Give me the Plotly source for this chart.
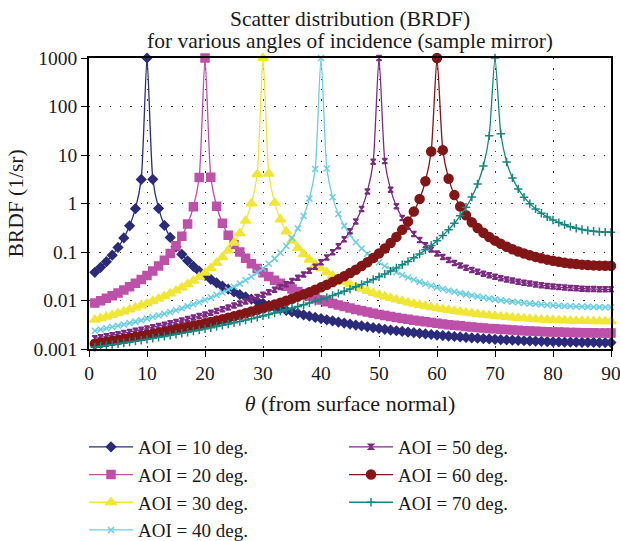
import plotly.graph_objects as go

theta = list(range(1, 91))

aoi_labels = ["AOI = 10 deg.", "AOI = 20 deg.", "AOI = 30 deg.", "AOI = 40 deg.",
              "AOI = 50 deg.", "AOI = 60 deg.", "AOI = 70 deg."]

brdf_10 = [0.0381, 0.0483, 0.0632, 0.0862, 0.1243, 0.1947, 0.347, 0.782, 3.14, 1000,
           3.16, 0.792, 0.353, 0.1995, 0.1282, 0.0894, 0.0660, 0.0508, 0.0403, 0.0328,
           0.0273, 0.0230, 0.01974, 0.01712, 0.01500, 0.01327, 0.01183, 0.01063, 0.00961, 0.00873,
           0.00798, 0.00733, 0.00676, 0.00626, 0.00581, 0.00542, 0.00507, 0.00476, 0.00448, 0.00423,
           0.00400, 0.00379, 0.00360, 0.00343, 0.00327, 0.00312, 0.00299, 0.00287, 0.00275, 0.00265,
           0.00255, 0.00246, 0.00238, 0.00230, 0.00223, 0.00217, 0.00210, 0.00204, 0.00199, 0.00194,
           0.00189, 0.00185, 0.00181, 0.00177, 0.00173, 0.00170, 0.00167, 0.00164, 0.00161, 0.00158,
           0.00156, 0.00154, 0.00152, 0.00150, 0.00148, 0.00147, 0.00145, 0.00144, 0.00142, 0.00141,
           0.00140, 0.00139, 0.00139, 0.00138, 0.00137, 0.00137, 0.00137, 0.00136, 0.00136, 0.00136]

brdf_20 = [0.00883, 0.00986, 0.01108, 0.01255, 0.01432, 0.01649, 0.01919, 0.0226, 0.0270, 0.0328,
           0.0407, 0.0517, 0.0679, 0.0928, 0.1343, 0.211, 0.377, 0.854, 3.44, 1000,
           3.48, 0.876, 0.392, 0.222, 0.1432, 0.1002, 0.0742, 0.0573, 0.0456, 0.0373,
           0.0311, 0.0263, 0.0227, 0.01972, 0.01734, 0.01540, 0.01378, 0.01242, 0.01127, 0.01028,
           0.00943, 0.00869, 0.00805, 0.00748, 0.00698, 0.00653, 0.00614, 0.00578, 0.00546, 0.00517,
           0.00491, 0.00468, 0.00446, 0.00426, 0.00409, 0.00392, 0.00377, 0.00363, 0.00350, 0.00339,
           0.00328, 0.00318, 0.00309, 0.00300, 0.00292, 0.00285, 0.00278, 0.00272, 0.00266, 0.00260,
           0.00255, 0.00251, 0.00246, 0.00243, 0.00239, 0.00236, 0.00233, 0.00230, 0.00227, 0.00225,
           0.00223, 0.00221, 0.00220, 0.00218, 0.00217, 0.00216, 0.00216, 0.00215, 0.00215, 0.00215]

brdf_30 = [0.00399, 0.00430, 0.00464, 0.00502, 0.00546, 0.00595, 0.00650, 0.00714, 0.00788, 0.00873,
           0.00973, 0.01090, 0.01229, 0.01396, 0.01599, 0.01848, 0.0216, 0.0255, 0.0306, 0.0373,
           0.0464, 0.0591, 0.0779, 0.1069, 0.1553, 0.245, 0.439, 0.998, 4.03, 1000,
           4.11, 1.039, 0.467, 0.265, 0.1718, 0.1207, 0.0897, 0.0695, 0.0556, 0.0456,
           0.0382, 0.0325, 0.0281, 0.0245, 0.0217, 0.01933, 0.01738, 0.01573, 0.01433, 0.01314,
           0.01211, 0.01121, 0.01043, 0.00974, 0.00913, 0.00859, 0.00811, 0.00768, 0.00729, 0.00694,
           0.00663, 0.00634, 0.00608, 0.00585, 0.00563, 0.00544, 0.00526, 0.00510, 0.00495, 0.00481,
           0.00469, 0.00457, 0.00447, 0.00437, 0.00428, 0.00420, 0.00413, 0.00407, 0.00401, 0.00396,
           0.00391, 0.00387, 0.00383, 0.00380, 0.00378, 0.00376, 0.00374, 0.00373, 0.00372, 0.00372]

brdf_40 = [0.00238, 0.00252, 0.00267, 0.00283, 0.00301, 0.00321, 0.00343, 0.00367, 0.00393, 0.00423,
           0.00455, 0.00492, 0.00533, 0.00579, 0.00631, 0.00690, 0.00757, 0.00835, 0.00924, 0.01028,
           0.01150, 0.01293, 0.01464, 0.01669, 0.01919, 0.0223, 0.0261, 0.0310, 0.0373, 0.0456,
           0.0570, 0.0730, 0.0965, 0.1331, 0.1942, 0.307, 0.554, 1.264, 5.13, 1000,
           5.28, 1.340, 0.605, 0.346, 0.225, 0.1587, 0.1186, 0.0924, 0.0742, 0.0612,
           0.0515, 0.0441, 0.0383, 0.0337, 0.0299, 0.0268, 0.0242, 0.0221, 0.0202, 0.01866,
           0.01730, 0.01612, 0.01509, 0.01419, 0.01339, 0.01269, 0.01206, 0.01150, 0.01100, 0.01055,
           0.01015, 0.00979, 0.00946, 0.00917, 0.00891, 0.00867, 0.00846, 0.00827, 0.00810, 0.00795,
           0.00782, 0.00770, 0.00760, 0.00752, 0.00745, 0.00739, 0.00734, 0.00731, 0.00729, 0.00729]

brdf_50 = [0.00166, 0.00174, 0.00183, 0.00192, 0.00202, 0.00213, 0.00224, 0.00237, 0.00250, 0.00265,
           0.00281, 0.00299, 0.00318, 0.00339, 0.00361, 0.00387, 0.00415, 0.00445, 0.00479, 0.00517,
           0.00560, 0.00607, 0.00660, 0.00720, 0.00789, 0.00866, 0.00955, 0.01057, 0.01176, 0.01314,
           0.01476, 0.01668, 0.01897, 0.0217, 0.0251, 0.0293, 0.0345, 0.0411, 0.0498, 0.0612,
           0.0769, 0.0990, 0.1317, 0.1825, 0.268, 0.426, 0.773, 1.773, 7.24, 1000,
           7.53, 1.927, 0.875, 0.503, 0.330, 0.234, 0.1763, 0.1383, 0.1120, 0.0930,
           0.0789, 0.0680, 0.0595, 0.0528, 0.0473, 0.0427, 0.0390, 0.0358, 0.0331, 0.0308,
           0.0289, 0.0272, 0.0257, 0.0244, 0.0233, 0.0223, 0.0214, 0.0207, 0.0200, 0.01943,
           0.01893, 0.01850, 0.01813, 0.01782, 0.01756, 0.01735, 0.01719, 0.01708, 0.01701, 0.01699]

brdf_60 = [0.00129, 0.00135, 0.00140, 0.00147, 0.00153, 0.00160, 0.00168, 0.00176, 0.00185, 0.00194,
           0.00204, 0.00215, 0.00226, 0.00239, 0.00252, 0.00267, 0.00283, 0.00300, 0.00318, 0.00339,
           0.00361, 0.00385, 0.00412, 0.00441, 0.00473, 0.00508, 0.00548, 0.00591, 0.00640, 0.00694,
           0.00755, 0.00823, 0.00900, 0.00988, 0.01087, 0.01201, 0.01332, 0.01484, 0.01660, 0.01866,
           0.0211, 0.0240, 0.0275, 0.0317, 0.0368, 0.0432, 0.0513, 0.0616, 0.0750, 0.0930,
           0.1177, 0.1528, 0.205, 0.286, 0.423, 0.680, 1.242, 2.88, 11.85, 1000,
           12.60, 3.25, 1.490, 0.867, 0.573, 0.412, 0.313, 0.249, 0.204, 0.1714,
           0.1472, 0.1286, 0.1141, 0.1025, 0.0932, 0.0855, 0.0792, 0.0740, 0.0696, 0.0659,
           0.0628, 0.0602, 0.0581, 0.0563, 0.0549, 0.0538, 0.0529, 0.0523, 0.0519, 0.0518]

brdf_70 = [0.00109, 0.00114, 0.00118, 0.00123, 0.00128, 0.00133, 0.00139, 0.00145, 0.00152, 0.00158,
           0.00166, 0.00174, 0.00182, 0.00191, 0.00201, 0.00211, 0.00222, 0.00234, 0.00247, 0.00260,
           0.00275, 0.00291, 0.00309, 0.00327, 0.00348, 0.00370, 0.00394, 0.00421, 0.00449, 0.00481,
           0.00516, 0.00554, 0.00596, 0.00642, 0.00694, 0.00751, 0.00815, 0.00886, 0.00965, 0.01055,
           0.01156, 0.01270, 0.01401, 0.01549, 0.01719, 0.01915, 0.0214, 0.0241, 0.0272, 0.0308,
           0.0352, 0.0404, 0.0467, 0.0545, 0.0640, 0.0760, 0.0911, 0.1107, 0.1366, 0.1714,
           0.220, 0.289, 0.392, 0.556, 0.835, 1.361, 2.53, 5.94, 24.9, 1000,
           27.4, 7.19, 3.37, 2.00, 1.351, 0.993, 0.773, 0.629, 0.529, 0.457,
           0.404, 0.364, 0.333, 0.309, 0.291, 0.278, 0.268, 0.261, 0.257, 0.256]

y_tickvals = [0.001, 0.01, 0.1, 1, 10, 100, 1000]
y_ticktext = ["0.001", "0.01", "0.1", "1", "10", "100", "1000"]

series = [brdf_10, brdf_20, brdf_30, brdf_40, brdf_50, brdf_60, brdf_70]
colors = ["#2b2b7a", "#bd50a8", "#f0e636", "#6ccfe0", "#7b2c80", "#821616", "#168680"]
symbols = ["diamond", "square", "triangle-up", "x-thin-open", "hourglass", "circle", "cross-thin-open"]
sizes = [7, 8, 9, 6, 5, 9, 6]
legend_ranks = [1, 3, 5, 7, 2, 4, 6]

FONT = "Liberation Serif"
TXT = "#1a1a1a"
L, R, T, B = 89, 9, 58, 192
PW = 620 - L - R
PH = 541 - T - B

fig = go.Figure()
for ys, name, col, sym, sz, rk in zip(series, aoi_labels, colors, symbols, sizes, legend_ranks):
    fig.add_trace(go.Scatter(
        x=theta, y=ys, name=name, mode="lines+markers",
        line=dict(color=col, width=1.3, shape="spline", smoothing=0.6),
        marker=dict(symbol=sym, size=sz, color=col, line=dict(color=col, width=1.5)),
        cliponaxis=False, legendrank=rk,
    ))

def px_to_paper_x(px):
    return (px - L) / PW

def px_to_paper_y(py):
    return 1 - (py - T) / PH

fig.update_layout(
    width=620, height=541,
    margin=dict(l=L, r=R, t=T, b=B, autoexpand=False),
    paper_bgcolor="white", plot_bgcolor="white",
    font=dict(family=FONT, size=19, color=TXT),
    showlegend=True,
    legend=dict(orientation="h", x=px_to_paper_x(84), xanchor="left",
                y=px_to_paper_y(428), yanchor="top",
                itemwidth=44,
                entrywidth=201, entrywidthmode="pixels",
                font=dict(family=FONT, size=19, color=TXT),
                bgcolor="rgba(0,0,0,0)"),
    annotations=[
        dict(text="Scatter distribution (BRDF)", x=px_to_paper_x(350), xref="paper",
             y=px_to_paper_y(19), yref="paper",
             showarrow=False, xanchor="center", yanchor="middle",
             font=dict(family=FONT, size=21.5, color=TXT)),
        dict(text="for various angles of incidence (sample mirror)", x=px_to_paper_x(350), xref="paper",
             y=px_to_paper_y(41), yref="paper",
             showarrow=False, xanchor="center", yanchor="middle",
             font=dict(family=FONT, size=21.5, color=TXT)),
    ],
)

fig.update_xaxes(
    range=[0, 90], dtick=10, tick0=0, automargin=False,
    ticklabeloverflow="allow",
    showline=True, linecolor="black", linewidth=1.5, mirror=True,
    ticks="outside", ticklen=6, tickcolor="black", tickwidth=1.2,
    showgrid=True, gridcolor="#333333", gridwidth=1.3, griddash="1.3px,9px",
    zeroline=False,
    tickfont=dict(family=FONT, size=19.5, color=TXT),
    title=dict(text="<i>θ</i> (from surface normal)", standoff=12,
               font=dict(family=FONT, size=22, color=TXT)),
)
fig.update_yaxes(
    type="log", range=[-3, 3], automargin=False,
    ticklabeloverflow="allow",
    tickvals=y_tickvals, ticktext=y_ticktext,
    showline=True, linecolor="black", linewidth=1.5, mirror=True,
    ticks="outside", ticklen=6, tickcolor="black", tickwidth=1.2,
    showgrid=True, gridcolor="#333333", gridwidth=1.3, griddash="1.3px,9px",
    zeroline=False,
    tickfont=dict(family=FONT, size=19.5, color=TXT),
    title=dict(text="BRDF (1/sr)", standoff=4,
               font=dict(family=FONT, size=21.5, color=TXT)),
)

fig.write_html("out.html", config={"displayModeBar": False},
               post_script="document.body.style.margin='0px';")
